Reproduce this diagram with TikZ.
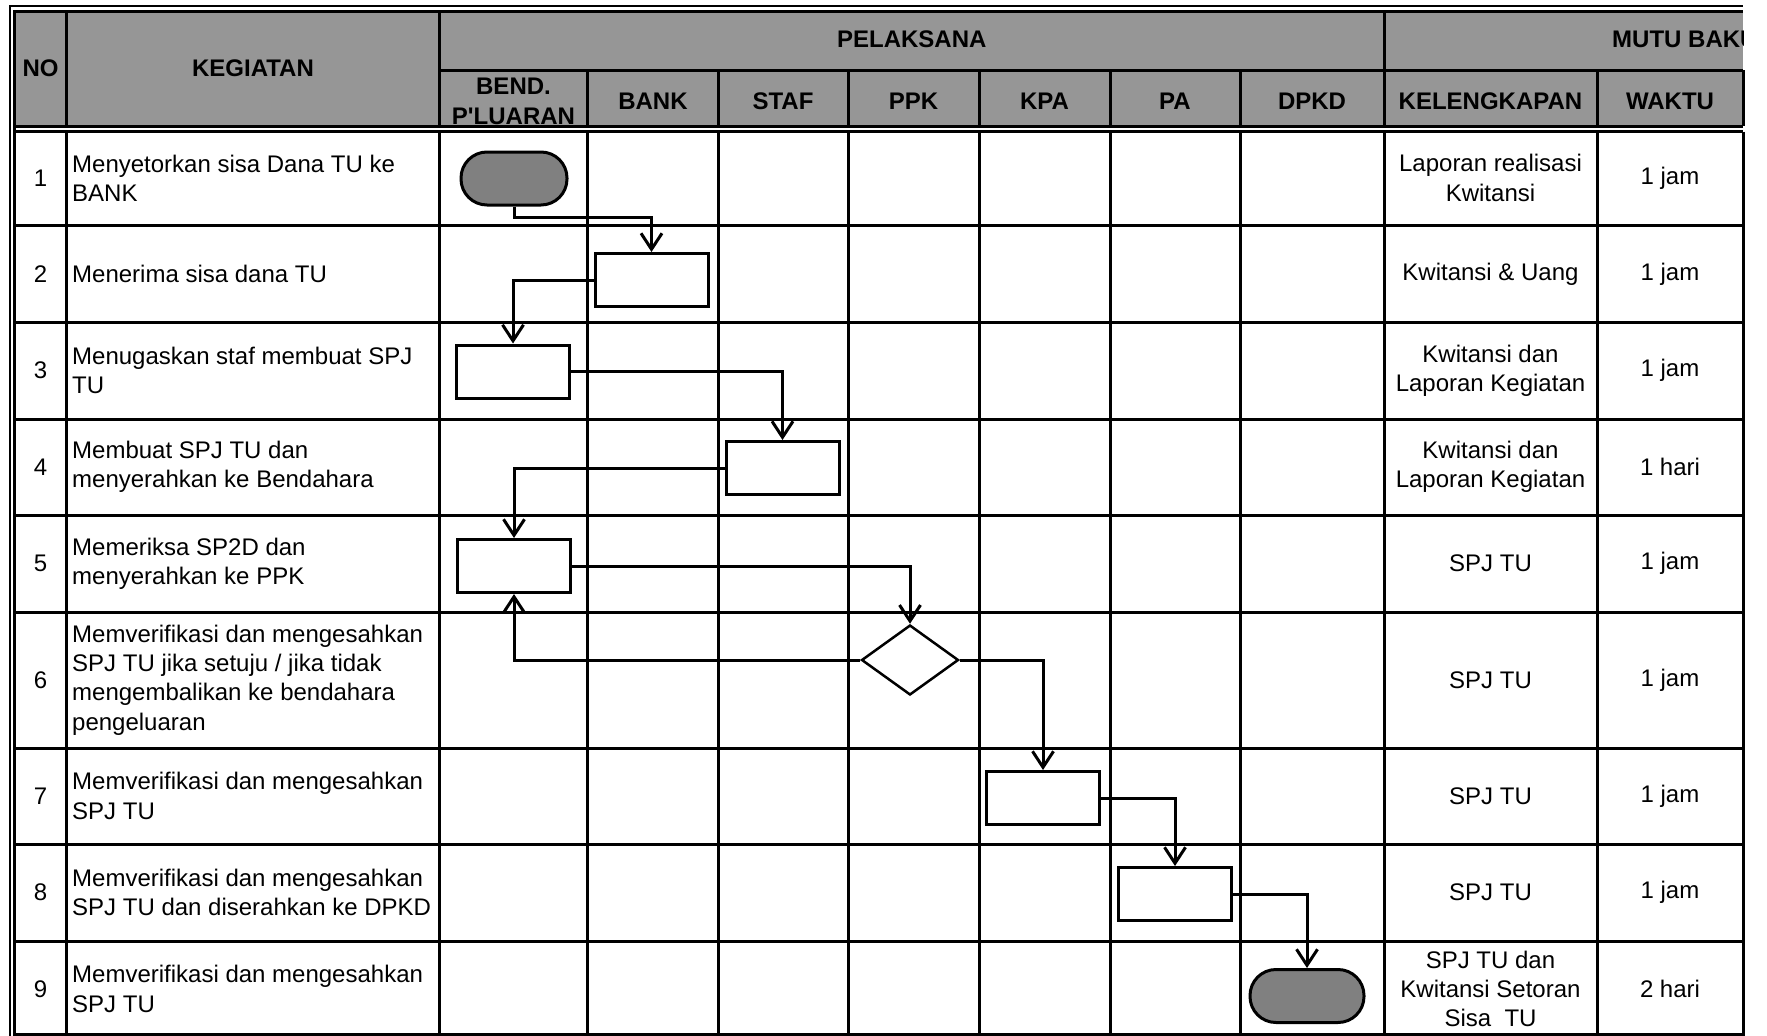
\documentclass[tikz,border=0pt]{standalone}
\usepackage{fontspec}
\setmainfont{Liberation Sans}
\usetikzlibrary{shapes.geometric}
\usetikzlibrary{arrows.meta}

\definecolor{headgray}{RGB}{150,150,150}
\definecolor{termgray}{RGB}{128,128,128}

\tikzset{
    garis/.style = {line width=3pt},
    kotak/.style = {draw,line width=3pt,fill=white,minimum width=113pt,minimum height=53pt,inner sep=0pt},
    terminal/.style = {draw,line width=3pt,fill=termgray,rounded corners=26pt,minimum width=106pt,minimum height=53pt,inner sep=0pt},
    keputusan/.style = {diamond,draw,line width=2.5pt,fill=white,minimum width=97pt,minimum height=70pt,inner sep=0pt},
    alur/.style = {line width=3pt,arrows = -{Straight Barb[length=16pt,width=21pt]}},
    judul/.style = {font=\fontsize{24}{30}\selectfont\bfseries,align=center,inner sep=0pt},
    isi/.style = {align=left,anchor=west,inner sep=0pt},
    tengah/.style = {align=center,inner sep=0pt}
}

\begin{document}
\begin{tikzpicture}[x=1pt,y=-1pt,font=\fontsize{24}{29.3}\selectfont]
        %   \draw [help lines] (0,0) grid (1767,1036);
        \useasboundingbox (0,0) rectangle (1767,1036);

        % header
        \fill [headgray] (14.5,11) rectangle (1743,126);
        \draw [line width=2pt] (9.5,1036) -- (9.5,6) -- (1743,6);
        \draw [garis] (14.5,1036) -- (14.5,11) -- (1743,11);
        \draw [garis] (439.5,70) -- (1743,70);
        \draw [garis] (14.5,126) -- (1743,126);
        \draw [line width=2.5pt] (14.5,131.5) -- (1743,131.5);
        \foreach \x in {66.5,439.5,1384}
        {
            \draw [garis] (\x,11) -- (\x,126);
        }
        \foreach \x in {587.5,718,848.5,979,1110,1240.5,1597,1743}
        {
            \draw [garis] (\x,70) -- (\x,126);
        }

        % badan tabel
        \foreach \x in {66.5,439.5,587.5,718,848.5,979,1110,1240.5,1384,1597,1743}
        {
            \draw [garis] (\x,131.5) -- (\x,1036);
        }
        \foreach \y in {225.5,322,419,515,612,748,844,941,1034}
        {
            \draw [garis] (14.5,\y) -- (1743,\y);
        }

        \node [judul] (hno) at (40.5,68) {NO};
        \node [judul] (hkeg) at (253,68) {KEGIATAN};
        \node [judul] (hpel) at (911.75,39) {PELAKSANA};
        \begin{scope}
            \clip (1384,11) rectangle (1743,70);
            \node [judul,anchor=west] (hmutu) at (1612,39) {MUTU BAKU};
        \end{scope}
        \node [judul] (hbend) at (513.5,101) {BEND.\\P\textquotesingle LUARAN};
        \node [judul] (hbank) at (653,101) {BANK};
        \node [judul] (hstaf) at (783,101) {STAF};
        \node [judul] (hppk) at (913.5,101) {PPK};
        \node [judul] (hkpa) at (1044.5,101) {KPA};
        \node [judul] (hpa) at (1175,101) {PA};
        \node [judul] (hdpkd) at (1312,101) {DPKD};
        \node [judul] (hlengkap) at (1490.5,101) {KELENGKAPAN};
        \node [judul] (hwaktu) at (1670,101) {WAKTU};

        % nomor dan waktu
        \foreach \n/\y/\w in {1/178/1 jam,2/274/1 jam,3/370.5/1 jam,4/467/1 hari,5/563.5/1 jam,6/680/1 jam,7/796/1 jam,8/892.5/1 jam,9/989/2 hari}
        {
            \node [tengah] (no\n) at (40.5,\y) {\n};
            \node [tengah] (waktu\n) at (1670,\y) {\w};
        }

        % kegiatan
        \node [isi] (keg1) at (72,178) {Menyetorkan sisa Dana TU ke\\BANK};
        \node [isi] (keg2) at (72,274) {Menerima sisa dana TU};
        \node [isi] (keg3) at (72,370.5) {Menugaskan staf membuat SPJ\\TU};
        \node [isi] (keg4) at (72,467) {Membuat SPJ TU dan\\menyerahkan ke Bendahara};
        \node [isi] (keg5) at (72,563.5) {Memeriksa SP2D dan\\menyerahkan ke PPK};
        \node [isi] (keg6) at (72,680) {Memverifikasi dan mengesahkan\\SPJ TU jika setuju / jika tidak\\mengembalikan ke bendahara\\pengeluaran};
        \node [isi] (keg7) at (72,796) {Memverifikasi dan mengesahkan\\SPJ TU};
        \node [isi] (keg8) at (72,892.5) {Memverifikasi dan mengesahkan\\SPJ TU dan diserahkan ke DPKD};
        \node [isi] (keg9) at (72,989) {Memverifikasi dan mengesahkan\\SPJ TU};

        % kelengkapan
        \node [tengah] (lengkap1) at (1490.5,178) {Laporan realisasi\\Kwitansi};
        \node [tengah] (lengkap2) at (1490.5,274) {Kwitansi \& Uang};
        \node [tengah] (lengkap3) at (1490.5,370.5) {Kwitansi dan\\Laporan Kegiatan};
        \node [tengah] (lengkap4) at (1490.5,467) {Kwitansi dan\\Laporan Kegiatan};
        \node [tengah] (lengkap5) at (1490.5,563.5) {SPJ TU};
        \node [tengah] (lengkap6) at (1490.5,680) {SPJ TU};
        \node [tengah] (lengkap7) at (1490.5,796) {SPJ TU};
        \node [tengah] (lengkap8) at (1490.5,892.5) {SPJ TU};
        \node [tengah] (lengkap9) at (1490.5,989) {SPJ TU dan\\Kwitansi Setoran\\Sisa\ \ TU};

        % alur
        \node [terminal] (mulai) at (514,178.5) {};
        \node [kotak] (terima) at (651.5,280) {};
        \node [kotak] (tugas) at (513,371.5) {};
        \node [kotak] (buat) at (782.5,468) {};
        \node [kotak] (periksa) at (514,566) {};
        \node [keputusan] (cek) at (910,660) {};
        \node [kotak] (sahkpa) at (1043,798) {};
        \node [kotak] (sahpa) at (1175,894) {};
        \node [terminal,minimum width=114pt] (selesai) at (1307,996) {};

        \draw [alur] (mulai.south) -- ++(0,11) -| (terima.north);
        \draw [alur] (terima.west) -| (tugas.north);
        \draw [alur] (tugas.east) -| (buat.north);
        \draw [alur] (buat.west) -| (periksa.north);
        \draw [alur] (periksa.east) -| (cek.north);
        \draw [alur] (cek.west) -| (periksa.south);
        \draw [alur] (cek.east) -| (sahkpa.north);
        \draw [alur] (sahkpa.east) -| (sahpa.north);
        \draw [alur] (sahpa.east) -| (selesai.north);
\end{tikzpicture}
\end{document}
